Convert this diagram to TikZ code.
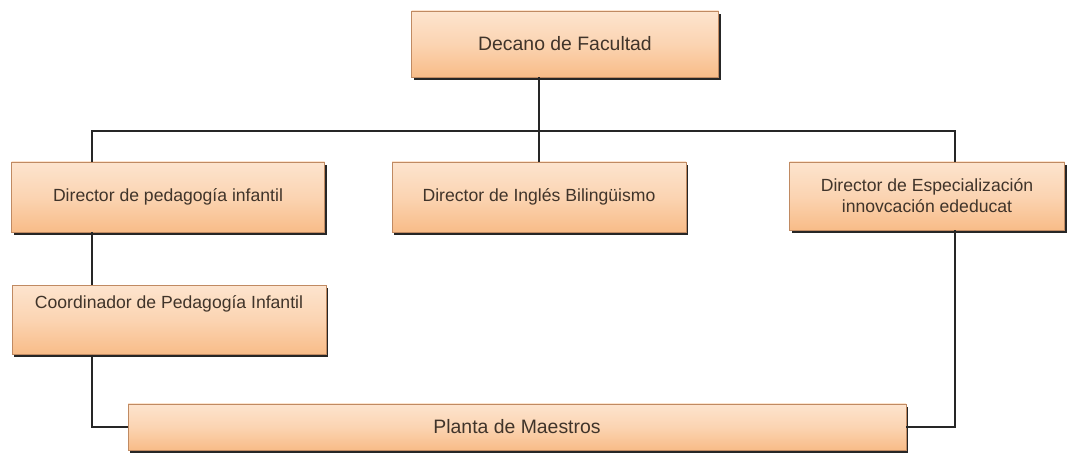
\documentclass[tikz,border=0pt]{standalone}
\usepackage{fontspec}
\setmainfont{Liberation Sans}
\usetikzlibrary{positioning,shadows,calc}
\definecolor{peachtop}{HTML}{FDE4CE}
\definecolor{peachbot}{HTML}{F8BC88}
\definecolor{peachline}{HTML}{C08A62}
\definecolor{boxtext}{HTML}{40342A}

\begin{document}
\begin{tikzpicture}[x=0.5pt, y=-0.5pt,
  post/.style={draw=peachline, line width=0.3pt, top color=peachtop, bottom color=peachbot,
    middle color=peachtop!60!peachbot, text=boxtext, font=\fontsize{8.8}{10.5}\selectfont,
    align=center, inner sep=2pt,
    drop shadow={shadow xshift=1.2pt, shadow yshift=-1.5pt, fill=black!85, opacity=1}},
  link/.style={draw=black!85, line width=0.9pt}]
  \useasboundingbox (0,0) rectangle (1067,454);

  \node[post, minimum width=153.5pt, minimum height=33pt, font=\fontsize{9.7}{11}\selectfont] (dec) at (565,44) {Decano de Facultad};
  \node[post, minimum width=156.5pt, minimum height=35pt] (dinf) at (168,197) {Director de pedagogía infantil};
  \node[post, minimum width=147pt, minimum height=35pt] (ding) at (539,197) {Director de Inglés Bilingüismo};
  \node[post, minimum width=137.5pt, minimum height=34pt] (desp) at (927,196) {Director de Especialización\\innovcación ededucat};
  \node[post, minimum width=157pt, minimum height=34.5pt, inner sep=0pt, text height=11.3pt, text depth=23.2pt] (coor) at (169,320) {Coordinador de Pedagogía Infantil};
  \node[post, minimum width=389pt, minimum height=23pt, font=\fontsize{9.7}{11}\selectfont] (plan) at (517,427) {Planta de Maestros};

  \coordinate (lx) at (92,131);
  \coordinate (rx) at (955,131);

  \draw[link] (dec.south -| ding.north) -- (ding.north);
  \draw[link] (lx |- dinf.north) -- (lx) -- (rx) -- (rx |- desp.north);
  \draw[link] (lx |- dinf.south) -- (lx |- coor.north);
  \draw[link] (lx |- coor.south) -- (lx |- plan.west) -- (plan.west);
  \draw[link] (rx |- desp.south) -- (rx |- plan.east) -- (plan.east);
\end{tikzpicture}
\end{document}
